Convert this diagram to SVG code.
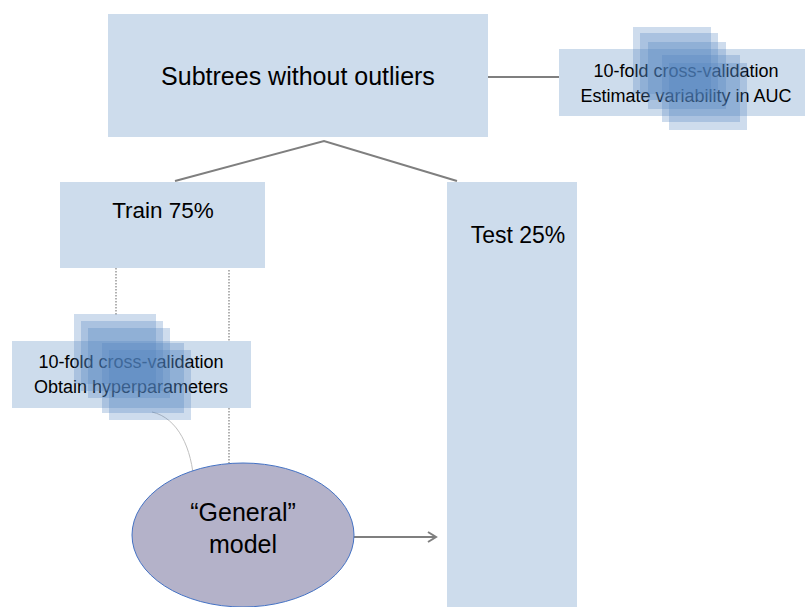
<svg xmlns="http://www.w3.org/2000/svg" width="805" height="607" viewBox="0 0 805 607">
  <style>
    .box { fill: #cddcec; }
    .glass { fill: #4f81bd; fill-opacity: 0.28; }
    .lbl { font-family: "Liberation Sans", Arial, sans-serif; fill: #000; text-anchor: middle; }
    .link { stroke: #7f7f7f; stroke-width: 2; fill: none; }
    .dots { stroke: #7f7f7f; stroke-width: 1.2; stroke-dasharray: 1.5 1.5; fill: none; }
  </style>
  <defs>
    <marker id="chev" viewBox="0 0 12 12" refX="10" refY="6" markerWidth="12" markerHeight="12" markerUnits="userSpaceOnUse" orient="auto">
      <path d="M2,1 L10,6 L2,11" fill="none" stroke="#7f7f7f" stroke-width="2"/>
    </marker>
  </defs>

  <!-- connectors -->
  <g id="connectors">
    <path class="link" d="M175,181 L324,141 L457,181"/>
    <path class="link" d="M488,77 L559,77"/>
    <path class="dots" d="M116,268 L116,316"/>
    <path class="dots" d="M229,270 L229,463"/>
    <path d="M152,412 C178,418 192,448 194,484" fill="none" stroke="#c0c0c0" stroke-width="1"/>
    <path class="link" d="M354,537 L436,537" marker-end="url(#chev)"/>
  </g>

  <g id="subtrees">
    <rect class="box" x="108" y="14" width="380" height="123"/>
    <text class="lbl" x="298" y="85" font-size="25">Subtrees without outliers</text>
  </g>

  <g id="cv-outer">
    <rect class="box" x="559" y="49" width="250" height="67"/>
    <text class="lbl" x="686" y="77" font-size="18">10-fold cross-validation</text>
    <text class="lbl" x="686" y="102" font-size="18">Estimate variability in AUC</text>
    <rect class="glass" x="633" y="27" width="78" height="67"/>
    <rect class="glass" x="640" y="33" width="78" height="67"/>
    <rect class="glass" x="648" y="42" width="78" height="67"/>
    <rect class="glass" x="662" y="55" width="78" height="67"/>
    <rect class="glass" x="669" y="63" width="78" height="67"/>
  </g>

  <g id="train">
    <rect class="box" x="60" y="182" width="205" height="86"/>
    <text class="lbl" x="163" y="218" font-size="22.5">Train 75%</text>
  </g>

  <g id="test">
    <rect class="box" x="447" y="182" width="130" height="425"/>
    <text class="lbl" x="518" y="243" font-size="23">Test 25%</text>
  </g>

  <g id="cv-inner">
    <rect class="box" x="12" y="341" width="239" height="67"/>
    <text class="lbl" x="131" y="368" font-size="18">10-fold cross-validation</text>
    <text class="lbl" x="131" y="393" font-size="18">Obtain hyperparameters</text>
    <rect class="glass" x="74" y="314" width="82" height="70"/>
    <rect class="glass" x="81" y="321" width="82" height="70"/>
    <rect class="glass" x="88" y="328" width="82" height="70"/>
    <rect class="glass" x="102" y="343" width="82" height="70"/>
    <rect class="glass" x="109" y="350" width="82" height="70"/>
  </g>

  <g id="general-model">
    <ellipse cx="243" cy="535" rx="111" ry="72" fill="#b4b2c9" stroke="#4472c4" stroke-width="1"/>
    <text class="lbl" x="243" y="521" font-size="25">“General”</text>
    <text class="lbl" x="243" y="553" font-size="25">model</text>
  </g>
</svg>
